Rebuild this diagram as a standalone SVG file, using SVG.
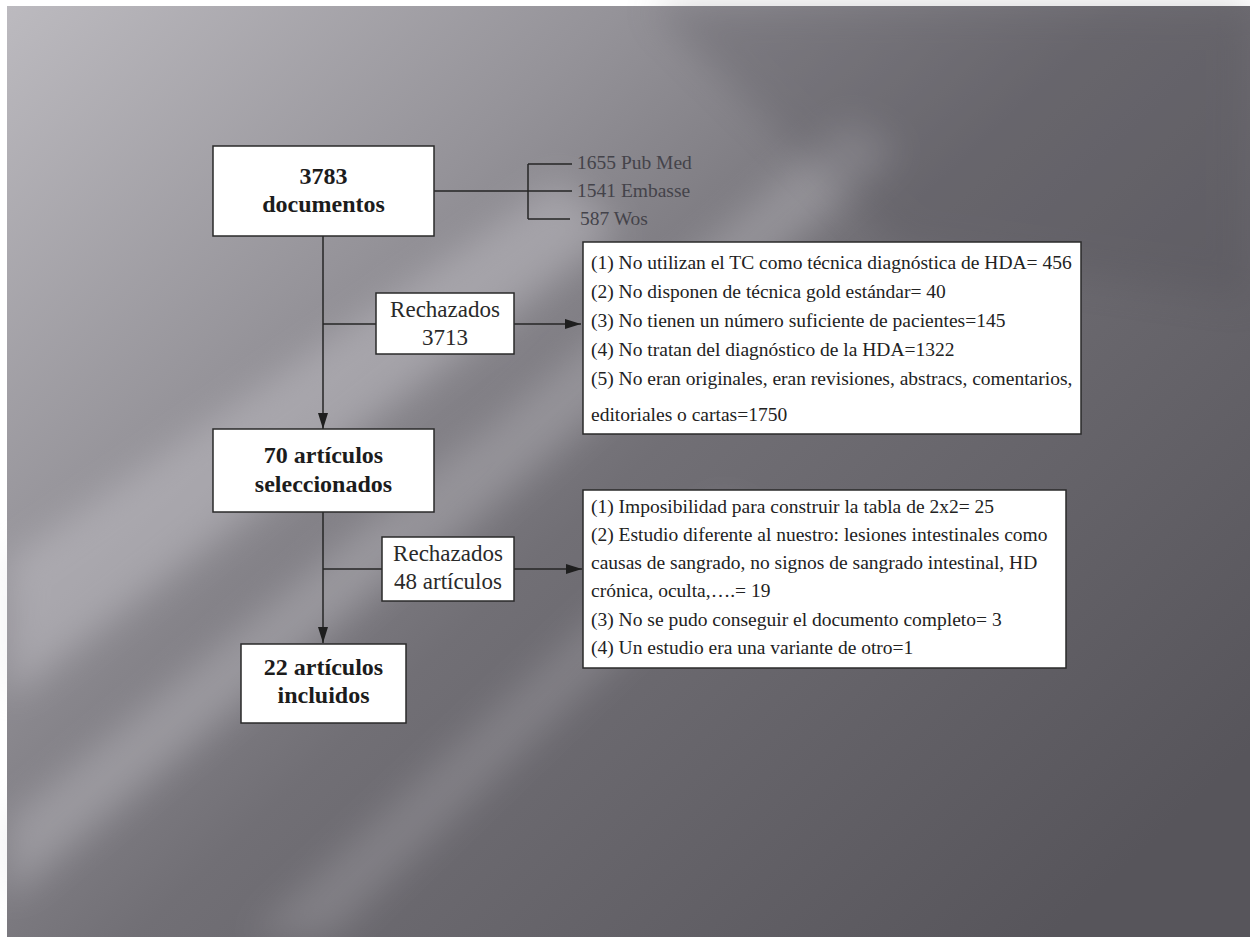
<svg xmlns="http://www.w3.org/2000/svg" width="1250" height="937" viewBox="0 0 1250 937">
  <defs>
    <linearGradient id="bg" x1="0" y1="0" x2="1" y2="0.8">
      <stop offset="0" stop-color="#bcbabf"/>
      <stop offset="0.3" stop-color="#959399"/>
      <stop offset="0.55" stop-color="#716f75"/>
      <stop offset="1" stop-color="#57555b"/>
    </linearGradient>
    <filter id="blur" x="-20%" y="-20%" width="140%" height="140%">
      <feGaussianBlur stdDeviation="18"/>
    </filter>
    <marker id="arr" viewBox="0 0 16 10" refX="16" refY="5" markerWidth="16" markerHeight="10" markerUnits="userSpaceOnUse" orient="auto">
      <path d="M0,0 L16,5 L0,10 z" fill="#1e1e1e"/>
    </marker>
    <style>
      .box { fill: #ffffff; stroke: #2a2a2a; stroke-width: 1.5; }
      .bold { font-family: "Liberation Serif", "Times New Roman", serif; font-weight: bold; font-size: 24px; fill: #1c1c1c; text-anchor: middle; }
      .rej { font-family: "Liberation Serif", "Times New Roman", serif; font-size: 23px; fill: #2a2a2a; text-anchor: middle; }
      .list { font-family: "Liberation Serif", "Times New Roman", serif; font-size: 19.5px; fill: #222222; }
      .src { font-family: "Liberation Serif", "Times New Roman", serif; font-size: 19.5px; fill: #44434a; }
      .ln { stroke: #262626; stroke-width: 1.5; fill: none; }
    </style>
  </defs>

  <!-- background -->
  <rect x="0" y="0" width="1250" height="937" fill="#ffffff"/>
  <rect x="7" y="6" width="1243" height="931" fill="url(#bg)"/>
  <g filter="url(#blur)" opacity="0.35">
    <polygon points="7,560 7,700 620,230 560,180" fill="#d8d6dc"/>
    <polygon points="7,820 7,900 520,470 470,440" fill="#cfcdd3"/>
    <polygon points="380,520 430,560 900,150 850,120" fill="#c4c2c8"/>
    <polygon points="250,937 330,937 760,520 720,500" fill="#aaa8ae"/>
  </g>
  <g filter="url(#blur)" opacity="0.25">
    <polygon points="650,6 1250,6 1250,300 900,250" fill="#4e4c52"/>
  </g>

  <!-- connectors -->
  <g id="connectors">
    <path class="ln" d="M434,191 H572 M528,164 V219 M528,164 H572 M528,219 H570"/>
    <line class="ln" x1="323" y1="236" x2="323" y2="429" marker-end="url(#arr)"/>
    <line class="ln" x1="323" y1="324" x2="376" y2="324"/>
    <line class="ln" x1="514" y1="324" x2="581" y2="324" marker-end="url(#arr)"/>
    <line class="ln" x1="323" y1="512" x2="323" y2="643" marker-end="url(#arr)"/>
    <line class="ln" x1="323" y1="569" x2="382" y2="569"/>
    <line class="ln" x1="514" y1="569" x2="582" y2="569" marker-end="url(#arr)"/>
  </g>

  <g id="n-documentos">
    <rect class="box" x="213" y="146" width="221" height="90"/>
    <text class="bold" x="323.5" y="184">3783</text>
    <text class="bold" x="323.5" y="212">documentos</text>
  </g>

  <g id="n-fuentes">
    <text class="src" x="577" y="169">1655 Pub Med</text>
    <text class="src" x="577" y="197">1541 Embasse</text>
    <text class="src" x="580" y="225">587 Wos</text>
  </g>

  <g id="n-rechazados1">
    <rect class="box" x="376" y="293" width="138" height="61"/>
    <text class="rej" x="445" y="317">Rechazados</text>
    <text class="rej" x="445" y="345">3713</text>
  </g>

  <g id="n-excl1">
    <rect class="box" x="583" y="242" width="498" height="192"/>
    <text class="list" x="591" y="269">(1) No utilizan el TC como técnica diagnóstica de HDA= 456</text>
    <text class="list" x="591" y="298">(2) No disponen de técnica gold estándar= 40</text>
    <text class="list" x="591" y="327">(3) No tienen un número suficiente de pacientes=145</text>
    <text class="list" x="591" y="356">(4) No tratan del diagnóstico de la HDA=1322</text>
    <text class="list" x="591" y="385">(5) No eran originales, eran revisiones, abstracs, comentarios,</text>
    <text class="list" x="591" y="421">editoriales o cartas=1750</text>
  </g>

  <g id="n-seleccionados">
    <rect class="box" x="213" y="429" width="221" height="83"/>
    <text class="bold" x="323.5" y="463">70 artículos</text>
    <text class="bold" x="323.5" y="492">seleccionados</text>
  </g>

  <g id="n-rechazados2">
    <rect class="box" x="382" y="537" width="132" height="64"/>
    <text class="rej" x="448" y="561">Rechazados</text>
    <text class="rej" x="448" y="589">48 artículos</text>
  </g>

  <g id="n-excl2">
    <rect class="box" x="583" y="490" width="483" height="178"/>
    <text class="list" x="591" y="513">(1) Imposibilidad para construir la tabla de 2x2= 25</text>
    <text class="list" x="591" y="541">(2) Estudio diferente al nuestro: lesiones intestinales como</text>
    <text class="list" x="591" y="569">causas de sangrado, no signos de sangrado intestinal, HD</text>
    <text class="list" x="591" y="597">crónica, oculta,….= 19</text>
    <text class="list" x="591" y="626">(3) No se pudo conseguir el documento completo= 3</text>
    <text class="list" x="591" y="654">(4) Un estudio era una variante de otro=1</text>
  </g>

  <g id="n-incluidos">
    <rect class="box" x="241" y="644" width="165" height="79"/>
    <text class="bold" x="323.5" y="675">22 artículos</text>
    <text class="bold" x="323.5" y="703">incluidos</text>
  </g>
</svg>
